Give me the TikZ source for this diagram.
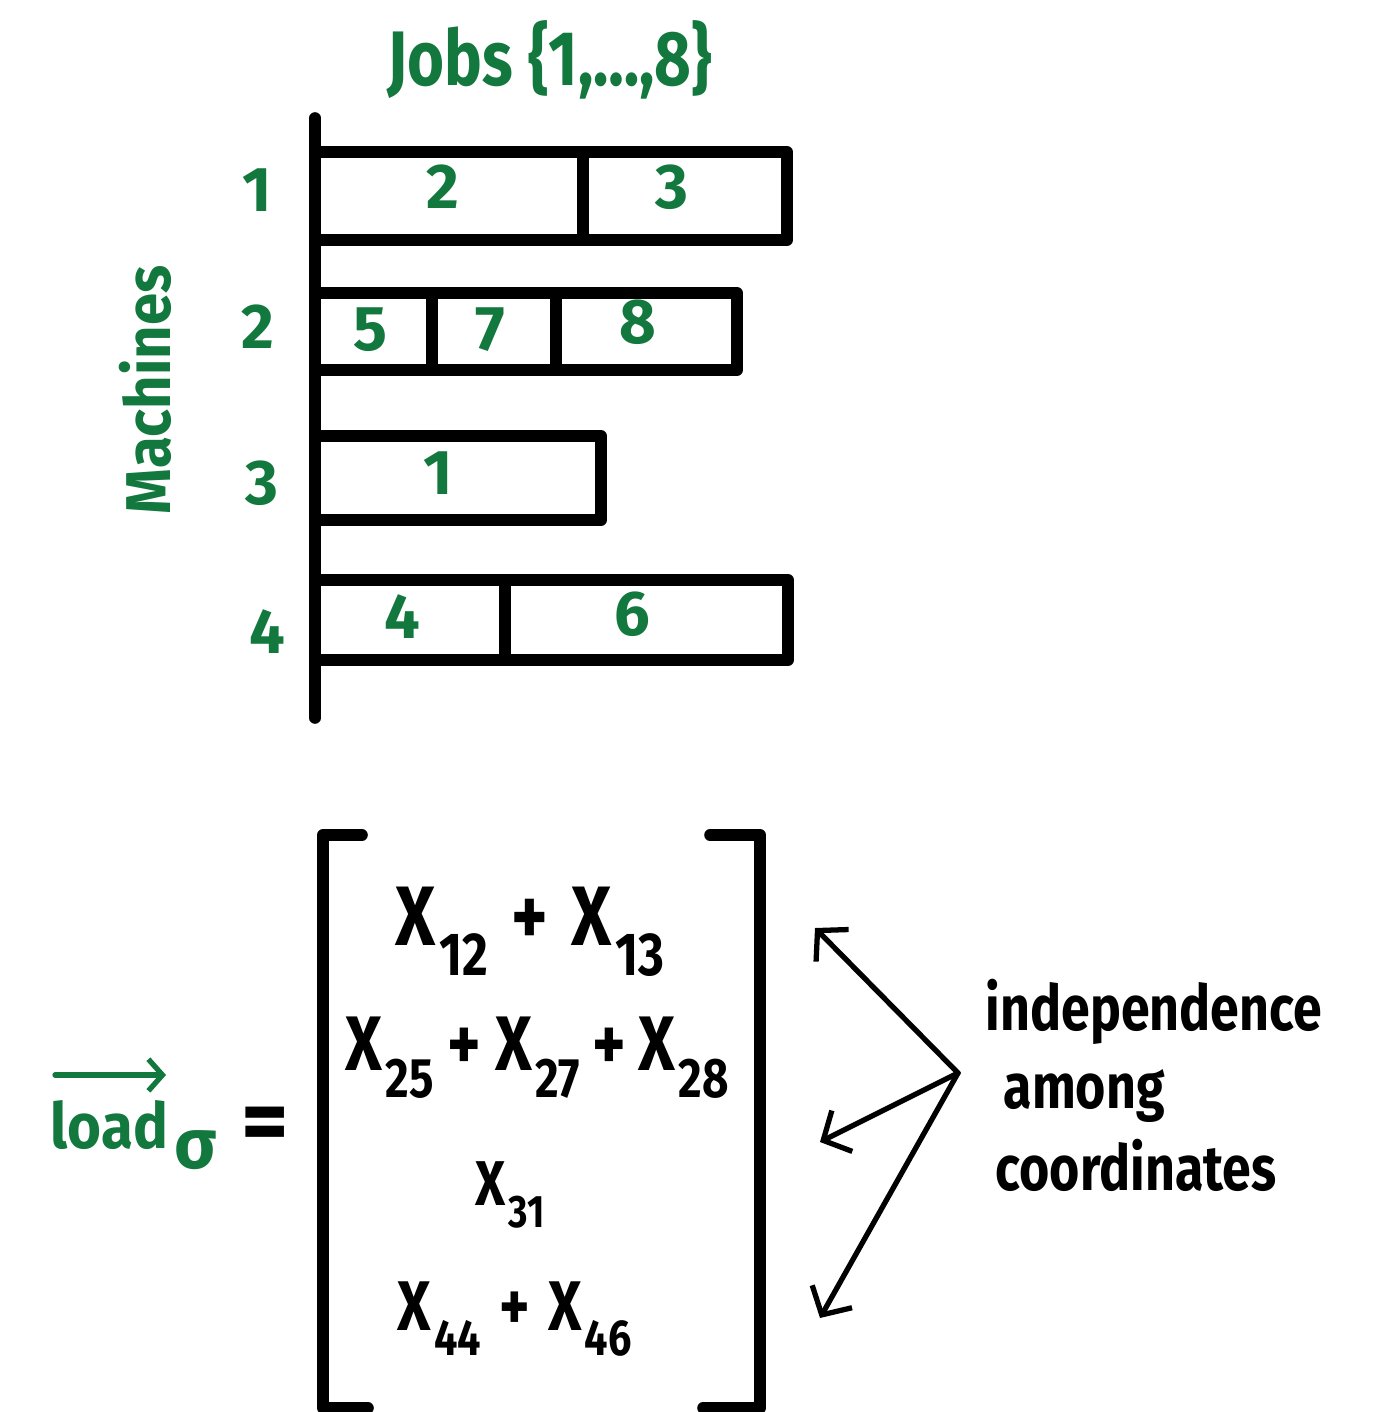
\documentclass[tikz,border=0pt]{standalone}
\usepackage{graphicx}
\usepackage{fontspec}
\setmainfont{Fira Sans}
\usetikzlibrary{arrows.meta}
\definecolor{pen}{RGB}{18,120,62}
\newcommand\fs[1]{\fontsize{#1}{#1}\selectfont\bfseries}
\newcommand\nar[1]{\scalebox{0.82}[1]{#1}}
\newcommand\Xs[1]{X\kern.05em\raisebox{-.36em}{\scalebox{0.72}{#1}}}
\newcommand\pl[1]{\kern#1em+\kern#1em}
\begin{document}
\begin{tikzpicture}[
  bar/.style={line width=3.3pt, line join=round, line cap=round},
  gtxt/.style={text=pen, inner sep=0pt, font=\fs{18}},
  ktxt/.style={text=black, inner sep=0pt},
  arr/.style={line width=1.5pt, line cap=round, -{Straight Barb[length=6pt,width=13pt,line width=1.5pt]}},
  parr/.style={draw=pen, line width=1.5pt, line cap=round, -{Straight Barb[length=4pt,width=9pt,line width=1.5pt]}}
]
\useasboundingbox (0,0) rectangle (13.84,-14.12);

% axis
\draw[bar] (3.15,-1.18) -- (3.15,-7.18);
% machine 1
\draw[bar] (3.15,-1.52) -- (7.87,-1.52) -- (7.87,-2.40) -- (3.15,-2.40);
\draw[bar] (5.83,-1.52) -- (5.83,-2.40);
% machine 2
\draw[bar] (3.15,-2.93) -- (7.37,-2.93) -- (7.37,-3.70) -- (3.15,-3.70);
\draw[bar] (4.32,-2.93) -- (4.32,-3.70);
\draw[bar] (5.56,-2.93) -- (5.56,-3.70);
% machine 3
\draw[bar] (3.15,-4.36) -- (6.01,-4.36) -- (6.01,-5.20) -- (3.15,-5.20);
% machine 4
\draw[bar] (3.15,-5.80) -- (7.88,-5.80) -- (7.88,-6.60) -- (3.15,-6.60);
\draw[bar] (5.05,-5.80) -- (5.05,-6.60);

% labels top
\node[gtxt, font=\fs{22}] (jobs) at (5.50,-0.60) {\nar{Jobs \{1,…,8\}}};
\node[gtxt, rotate=90] (mach) at (1.45,-3.90) {\scalebox{0.92}[1]{Machines}};
\node[gtxt] (m1) at (2.57,-1.90) {1};
\node[gtxt] (m2) at (2.58,-3.27) {2};
\node[gtxt] (m3) at (2.62,-4.83) {3};
\node[gtxt] (m4) at (2.67,-6.32) {4};

\node[gtxt] (j2) at (4.43,-1.87) {2};
\node[gtxt] (j3) at (6.72,-1.87) {3};
\node[gtxt] (j5) at (3.70,-3.30) {5};
\node[gtxt] (j7) at (4.90,-3.30) {7};
\node[gtxt] (j8) at (6.38,-3.22) {8};
\node[gtxt] (j1) at (4.38,-4.73) {1};
\node[gtxt] (j4) at (4.02,-6.17) {4};
\node[gtxt] (j6) at (6.32,-6.14) {6};

% load vector
\node[gtxt, anchor=base west] (load) at (0.50,-11.48) {\scalebox{0.92}[1]{load}};
\node[gtxt, font=\fs{20}, anchor=base west] (sig) at (1.74,-11.68) {σ};
\coordinate (vs) at (0.55,-10.75);
\coordinate (ve) at (1.66,-10.75);
\draw[parr] (vs) -- (ve);
\node[ktxt, font=\fs{26}] (eq) at (2.65,-11.30) {=};

% brackets
\draw[bar] (3.62,-8.35) -- (3.23,-8.35) -- (3.23,-14.08) -- (3.68,-14.08);
\draw[bar] (7.10,-8.35) -- (7.60,-8.35) -- (7.60,-14.08) -- (7.03,-14.08);

% entries
\node[ktxt, font=\fs{24}, anchor=base west] (r1) at (3.95,-9.45) {\nar{\Xs{12}\pl{0.34}\Xs{13}}};
\node[ktxt, font=\fs{22}, anchor=base west] (r2) at (3.45,-10.70) {\nar{\Xs{25}\pl{0.22}\Xs{27}\pl{0.2}\Xs{28}}};
\node[ktxt, font=\fs{18}, anchor=base west] (r3) at (4.75,-12.05) {\nar{\Xs{31}}};
\node[ktxt, font=\fs{20}, anchor=base west] (r4) at (3.97,-13.30) {\nar{\Xs{44}\pl{0.32}\Xs{46}}};

% arrows
\coordinate (hub) at (9.58,-10.73);
\coordinate (t1) at (8.15,-9.28);
\coordinate (t2) at (8.20,-11.42);
\coordinate (t3) at (8.20,-13.18);
\draw[arr] (hub) -- (t1);
\draw[arr] (hub) -- (t2);
\draw[arr] (hub) -- (t3);

% note
\node[ktxt, font=\fs{18}, anchor=base west] (n1) at (9.85,-10.30) {\nar{independence}};
\node[ktxt, font=\fs{18}, anchor=base west] (n2) at (10.03,-11.08) {\nar{among}};
\node[ktxt, font=\fs{18}, anchor=base west] (n3) at (9.95,-11.90) {\nar{coordinates}};
\end{tikzpicture}
\end{document}
